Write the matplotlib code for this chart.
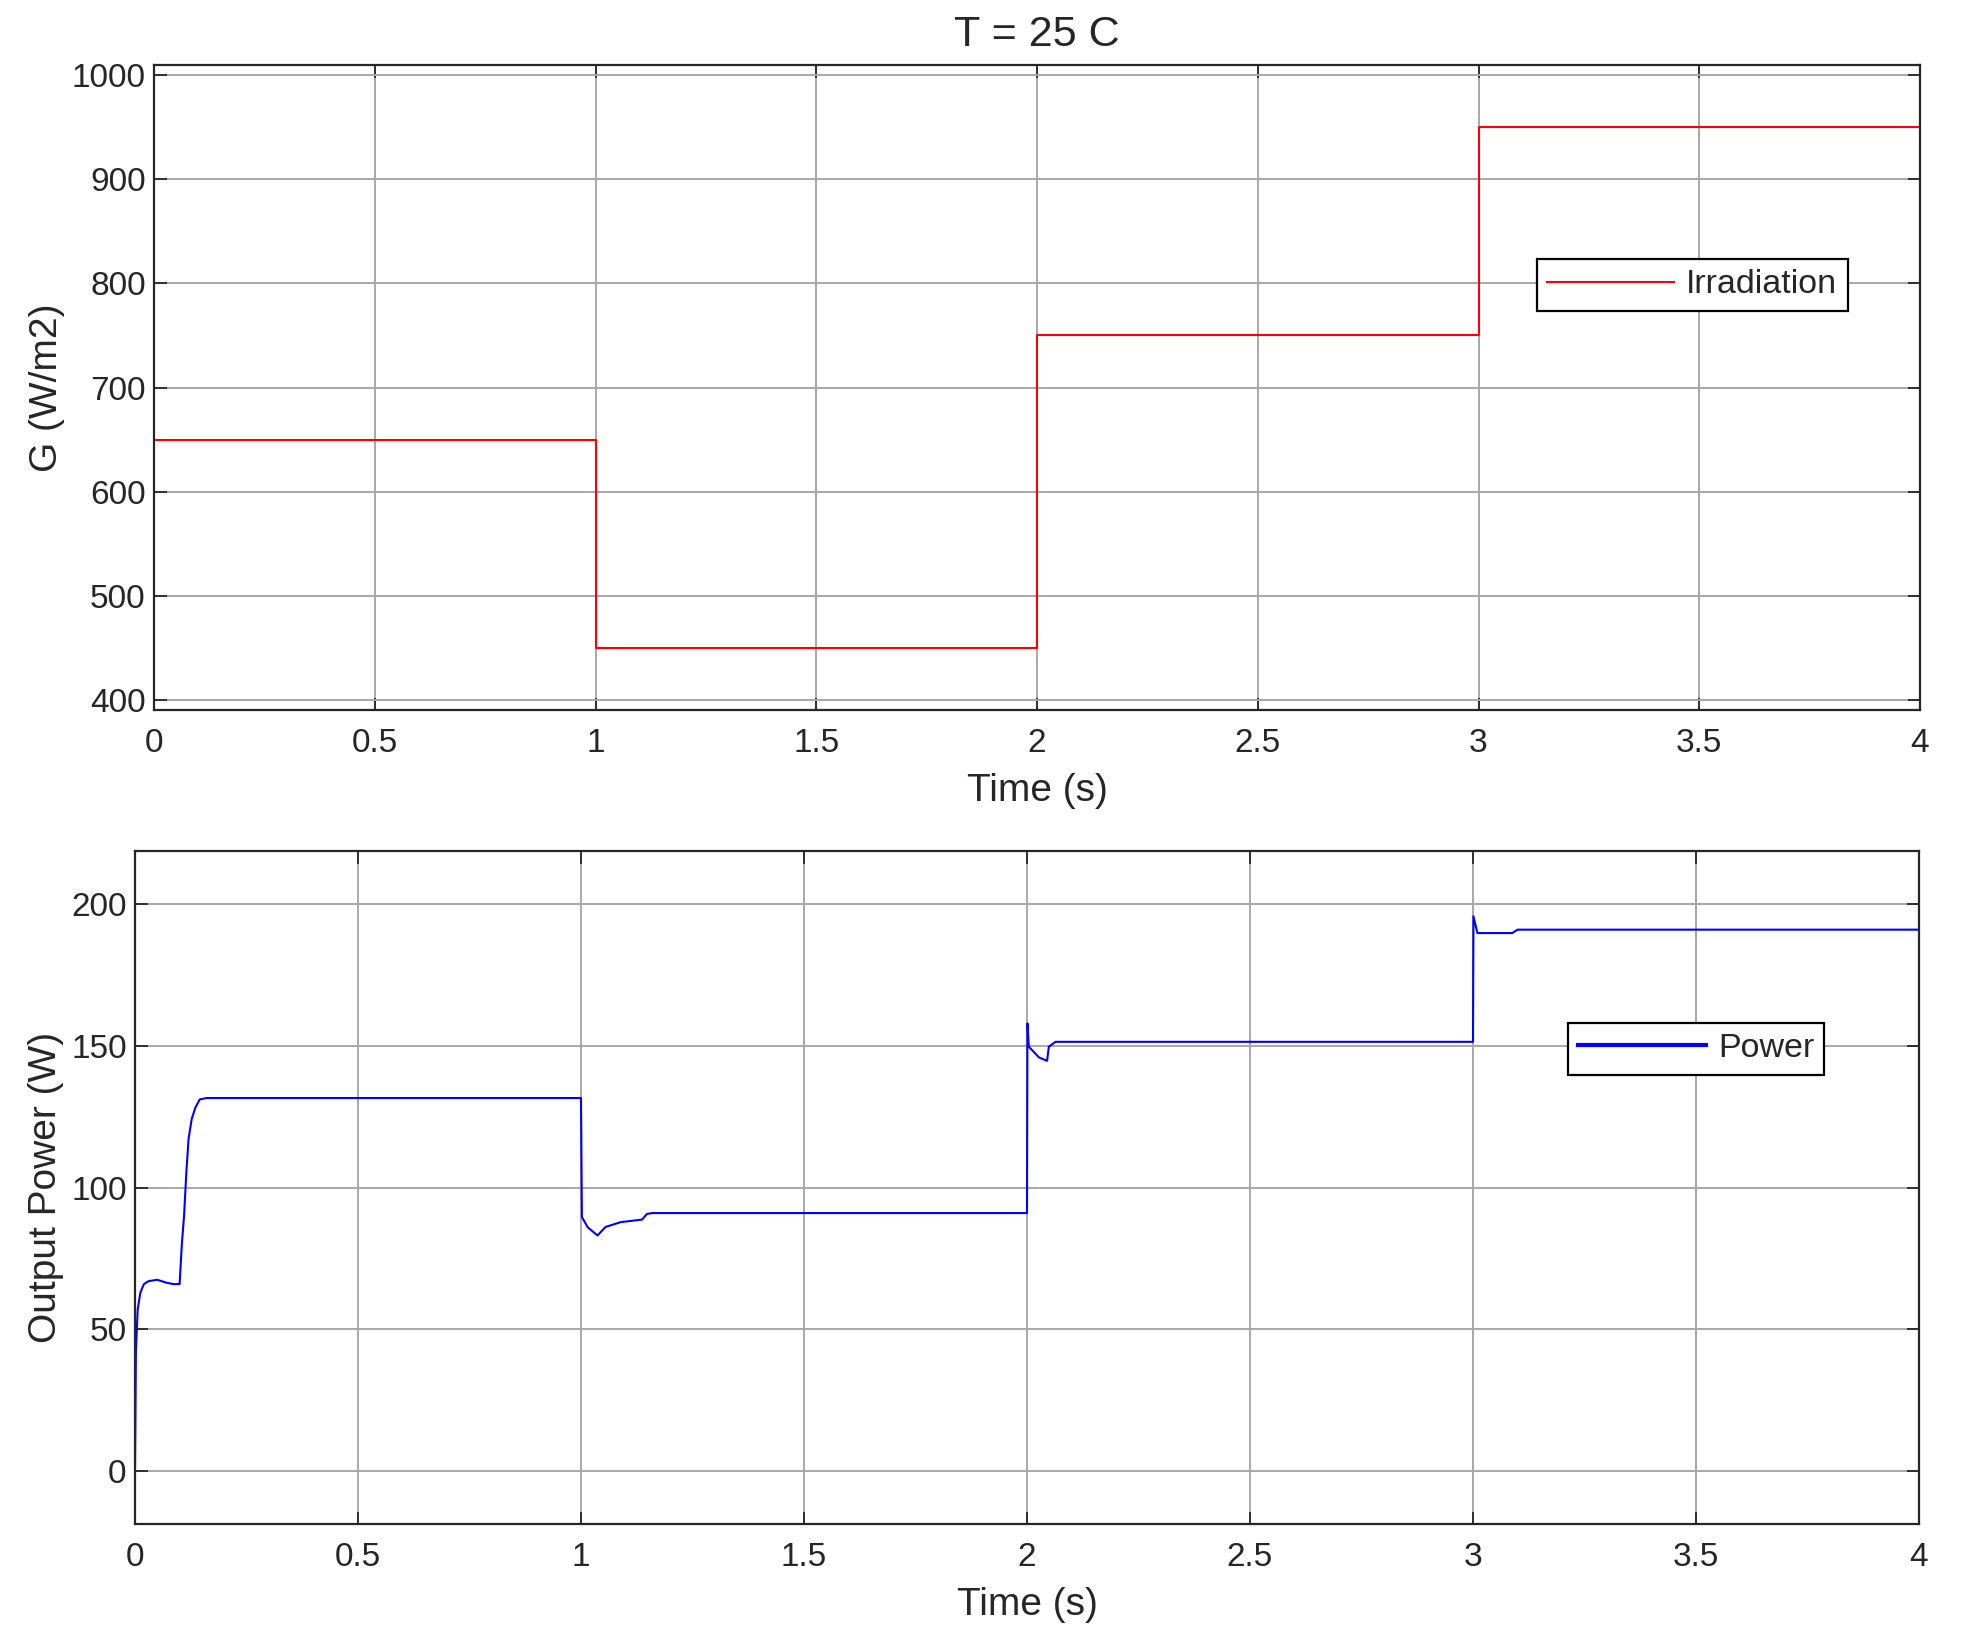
import numpy as np
import matplotlib
matplotlib.use('Agg')
from matplotlib import pyplot as plt

# Irradiacion escalonada (W/m2)
g_times = [0, 1, 1, 2, 2, 3, 3, 4]
g_values = [650, 650, 450, 450, 750, 750, 950, 950]

# Potencia de salida (W)
p_times = [0, 0.002, 0.006, 0.012, 0.02, 0.03, 0.05, 0.07, 0.085, 0.1,
           0.105, 0.11, 0.115, 0.12, 0.127, 0.135, 0.145, 0.16,
           1.0, 1.002, 1.015, 1.037, 1.055, 1.089, 1.137, 1.148, 1.16,
           2.0, 2.001, 2.004, 2.027, 2.045, 2.049, 2.064, 2.08,
           3.0, 3.001, 3.01, 3.088, 3.1, 4.0]
p_values = [0, 42, 57, 63, 66, 67, 67.5, 66.5, 66, 66,
            80, 90, 105, 117, 124, 128, 131, 131.5,
            131.5, 89.6, 86, 83.1, 86.1, 87.8, 88.7, 90.7, 91,
            91, 157.8, 149.6, 145.8, 144.6, 149.6, 151.3, 151.3,
            151.3, 195.5, 189.6, 189.6, 190.8, 190.8]

x_ticks = [0, 0.5, 1, 1.5, 2, 2.5, 3, 3.5, 4]
x_labels = ['0', '0.5', '1', '1.5', '2', '2.5', '3', '3.5', '4']
g_ticks = [400, 500, 600, 700, 800, 900, 1000]
p_ticks = [0, 50, 100, 150, 200]

plt.rcParams['font.family'] = ['Liberation Sans', 'DejaVu Sans']
text_color = '#262626'

fig = plt.figure(figsize=(19.63, 16.39), dpi=100)
ax1 = fig.add_axes([154 / 1963, 1 - 710 / 1639, 1766 / 1963, 645 / 1639])
ax2 = fig.add_axes([135 / 1963, 1 - 1524 / 1639, 1784 / 1963, 673 / 1639])


def style_axes(ax):
    ax.grid(True, color='#a8a8a8', linewidth=1.4)
    ax.set_axisbelow(True)
    ax.tick_params(direction='in', length=9, width=1.3, top=True, right=True,
                   labelsize=24, labelcolor=text_color, color='#262626')
    ax.tick_params(axis='x', pad=13)
    ax.tick_params(axis='y', pad=6)
    for s in ax.spines.values():
        s.set_color('#262626')
        s.set_linewidth(1.6)
    ax.set_xlim(0, 4)
    ax.set_xticks(x_ticks)
    ax.set_xticklabels(x_labels)
    ax.set_xlabel('Time (s)', fontsize=28, color=text_color, labelpad=10)


def add_legend(ax, anchor):
    leg = ax.legend(loc='center right', bbox_to_anchor=anchor, fontsize=24.5,
                    handlelength=3.75, fancybox=False, framealpha=1, edgecolor='black',
                    borderpad=0.3, handletextpad=0.35, borderaxespad=0)
    leg.get_frame().set_linewidth(1.6)
    for t in leg.get_texts():
        t.set_color(text_color)
    return leg


ax1.plot(g_times, g_values, color='red', linewidth=1.5, label='Irradiation')
style_axes(ax1)
ax1.set_ylim(390, 1010)
ax1.set_yticks(g_ticks)
ax1.set_ylabel('G (W/m2)', fontsize=28, color=text_color, labelpad=5)
ax1.set_title('T = 25 C', fontsize=31, color=text_color, pad=14)
add_legend(ax1, (0.959, 0.659))

ax2.plot(p_times, p_values, color='blue', linewidth=1.5, label='Power')
style_axes(ax2)
ax2.set_ylim(-18.5, 218.5)
ax2.set_yticks(p_ticks)
ax2.set_ylabel('Output Power (W)', fontsize=28, color=text_color, labelpad=5)
leg2 = add_legend(ax2, (0.947, 0.706))
leg2.get_lines()[0].set_linewidth(3)

fig.savefig('out.png', dpi=100, facecolor='white')
